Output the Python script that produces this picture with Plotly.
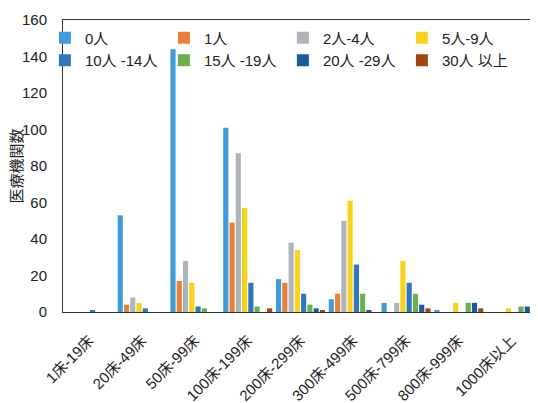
import plotly.graph_objects as go

categories = ["1床-19床", "20床-49床", "50床-99床", "100床-199床", "200床-299床",
              "300床-499床", "500床-799床", "800床-999床", "1000床以上"]

series_names = ["0人", "1人", "2人-4人", "5人-9人", "10人 -14人", "15人 -19人", "20人 -29人", "30人 以上"]

s_0 = [0, 53, 144, 101, 18, 7, 5, 1, 0]
s_1 = [0, 4, 17, 49, 16, 10, 0, 0, 0]
s_2_4 = [0, 8, 28, 87, 38, 50, 5, 0, 0]
s_5_9 = [0, 5, 16, 57, 34, 61, 28, 5, 2]
s_10_14 = [1, 2, 3, 16, 10, 26, 16, 0, 0]
s_15_19 = [0, 0, 2, 3, 4, 10, 10, 5, 3]
s_20_29 = [0, 0, 0, 0, 2, 1, 4, 5, 3]
s_30 = [0, 0, 0, 2, 1, 0, 2, 2, 2]

series_values = [s_0, s_1, s_2_4, s_5_9, s_10_14, s_15_19, s_20_29, s_30]
colors = ["#3E9CDA", "#E8803A", "#AEB4BA", "#F9D21B", "#2F78BD", "#6AB04C", "#1C5A9A", "#9E480E"]

font_family = "Liberation Sans, Noto Sans CJK JP, sans-serif"

fig = go.Figure()
for name, vals, col in zip(series_names, series_values, colors):
    fig.add_trace(go.Bar(name=name, x=categories, y=vals, marker_color=col,
                         marker_line_width=0))

fig.update_layout(
    width=530, height=395,
    margin=dict(l=55, r=0, t=12, b=91, autoexpand=False),
    paper_bgcolor="white", plot_bgcolor="white",
    barmode="group", bargap=0.05, bargroupgap=0.18,
    font=dict(family=font_family, size=15, color="#222"),
    legend=dict(orientation="h", x=0.964, y=0.995, xanchor="right", yanchor="top",
                entrywidth=74, entrywidthmode="pixels", itemwidth=30,
                font=dict(size=15, family=font_family, color="#222"),
                bgcolor="rgba(0,0,0,0)", tracegroupgap=0),
    showlegend=True,
)
fig.update_xaxes(showline=True, linecolor="#333", linewidth=1, mirror=True,
                 tickangle=-45, showgrid=False, ticks="outside", ticklen=13,
                 tickcolor="rgba(0,0,0,0)", automargin=False,
                 tickfont=dict(size=15, family=font_family, color="#222"),
                 range=[-0.5, 8.5])
fig.update_yaxes(showline=True, linecolor="#333", linewidth=1, mirror=False,
                 range=[0, 160], dtick=20, showgrid=False, ticks="outside", ticklen=12,
                 tickcolor="rgba(0,0,0,0)",
                 zeroline=False, automargin=False,
                 tickfont=dict(size=15, family=font_family, color="#222"),
                 title=dict(text="医療機関数", font=dict(size=15, family=font_family, color="#222")))

fig.write_html("out.html")
